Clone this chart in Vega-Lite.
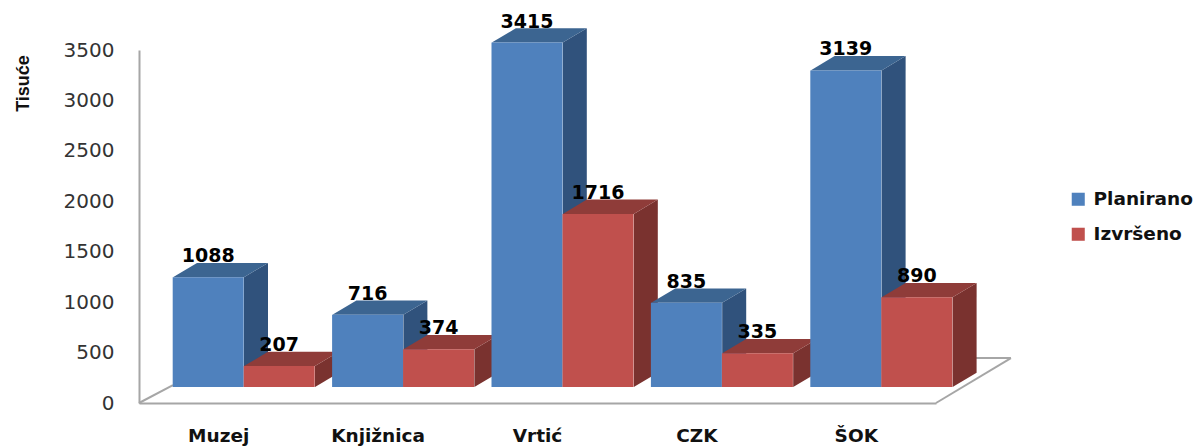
{
"$schema":"https://vega.github.io/schema/vega-lite/v6.json",
"width":797,"height":353,
"autosize":"none",
"padding":{"left":139,"top":50,"right":264,"bottom":45},
"background":"white",
"datasets":{
"bars":[
{"cat":"Muzej","series":"Planirano","value":1088},
{"cat":"Muzej","series":"Izvršeno","value":207},
{"cat":"Knjižnica","series":"Planirano","value":716},
{"cat":"Knjižnica","series":"Izvršeno","value":374},
{"cat":"Vrtić","series":"Planirano","value":3415},
{"cat":"Vrtić","series":"Izvršeno","value":1716},
{"cat":"CZK","series":"Planirano","value":835},
{"cat":"CZK","series":"Izvršeno","value":335},
{"cat":"ŠOK","series":"Planirano","value":3139},
{"cat":"ŠOK","series":"Izvršeno","value":890}
],
"floor":[
{"edge":"left","slot":0,"depth":0},
{"edge":"left","slot":0.213,"depth":178},
{"edge":"right","slot":5,"depth":0},
{"edge":"right","slot":5.47,"depth":446},
{"edge":"back","slot":5.245,"depth":446},
{"edge":"back","slot":5.47,"depth":446}
]
},
"layer":[
{
"data":{"name":"bars"},
"mark":{"type":"bar","opacity":0},
"encoding":{
"x":{"field":"cat","type":"nominal","sort":["Muzej","Knjižnica","Vrtić","CZK","ŠOK"],
"axis":{"title":null,"labelAngle":0,"ticks":false,"labelPadding":23,"labelFont":"DejaVu Sans","labelFontWeight":"bold","labelFontSize":18.5,"labelColor":"#111","domainColor":"#a6a6a6","domainWidth":2}},
"y":{"field":"value","type":"quantitative","stack":null,"scale":{"domain":[0,3500],"nice":false},
"axis":{"values":[0,500,1000,1500,2000,2500,3000,3500],"format":"d","grid":false,"ticks":false,"labelPadding":25,"labelFont":"DejaVu Sans","labelFontSize":20,"labelColor":"#333","domainColor":"#a6a6a6","domainWidth":2,
"title":"Tisuće","titleFont":"Liberation Sans","titleFontWeight":"bold","titleFontSize":18,"titleColor":"#111","titleX":-107,"titleY":33,"titleAlign":"center"}}
}
},
{
"data":{"name":"floor"},
"mark":{"type":"line","color":"#a6a6a6","strokeWidth":2},
"encoding":{
"x":{"field":"slot","type":"quantitative","scale":{"domain":[0,5]},"axis":null},
"y":{"field":"depth","type":"quantitative"},
"detail":{"field":"edge"}
}
},
{
"data":{"name":"bars"},
"transform":[
{"calculate":"indexof(['Muzej','Knjižnica','Vrtić','CZK','ŠOK'],datum.cat)+0.2133+0.4454*(datum.series==='Izvršeno'?1:0)","as":"left"},
{"calculate":"[0,1]","as":"t"},
{"flatten":["t"]},
{"calculate":"datum.left+0.4454+0.1506*datum.t","as":"sx"},
{"calculate":"datum.value+142*datum.t","as":"top"},
{"calculate":"142*datum.t","as":"base"}
],
"mark":{"type":"area","yOffset":-16,"y2Offset":-16,"line":false},
"encoding":{
"x":{"field":"sx","type":"quantitative","scale":{"domain":[0,5]},"axis":null},
"y":{"field":"top","type":"quantitative","stack":null},
"y2":{"field":"base"},
"detail":{"field":"cat"},
"color":{"field":"series","type":"nominal","scale":{"domain":["Planirano","Izvršeno"],"range":["#30527C","#7A322F"]},"legend":null}
}
},
{
"data":{"name":"bars"},
"transform":[
{"calculate":"indexof(['Muzej','Knjižnica','Vrtić','CZK','ŠOK'],datum.cat)+0.2133+0.4454*(datum.series==='Izvršeno'?1:0)","as":"left"},
{"calculate":"[0,1]","as":"t"},
{"flatten":["t"]},
{"calculate":"datum.left+0.1506*datum.t","as":"tx"},
{"calculate":"datum.left+0.4454+0.1506*datum.t","as":"tx2"},
{"calculate":"datum.value+142*datum.t","as":"top"}
],
"mark":{"type":"area","orient":"horizontal","yOffset":-16,"y2Offset":-16},
"encoding":{
"y":{"field":"top","type":"quantitative"},
"x":{"field":"tx","type":"quantitative","scale":{"domain":[0,5]},"axis":null,"stack":null},
"x2":{"field":"tx2"},
"detail":{"field":"cat"},
"color":{"field":"series","type":"nominal","scale":{"domain":["Planirano","Izvršeno"],"range":["#3C6591","#8F3C39"]},"legend":null}
}
},
{
"data":{"name":"bars"},
"mark":{"type":"bar","yOffset":-16,"y2Offset":-16},
"encoding":{
"x":{"field":"cat","type":"nominal","sort":["Muzej","Knjižnica","Vrtić","CZK","ŠOK"],
"scale":{"range":[25,822],"paddingInner":0.1092,"paddingOuter":0.0546},"axis":null},
"xOffset":{"field":"series","type":"nominal","sort":["Planirano","Izvršeno"],"scale":{"domain":["Planirano","Izvršeno"],"paddingInner":0,"paddingOuter":0}},
"y":{"field":"value","type":"quantitative","stack":null},
"y2":{"datum":0},
"color":{"field":"series","type":"nominal","scale":{"domain":["Planirano","Izvršeno"],"range":["#4F81BD","#C0504D"]},
"legend":{"title":null,"orient":"none","legendX":930,"legendY":140,"symbolType":"square","symbolSize":170,"symbolStrokeWidth":0,"labelFont":"DejaVu Sans","labelFontWeight":"bold","labelFontSize":18.5,"labelColor":"#111","rowPadding":16,"labelOffset":6}}
}
},
{
"data":{"name":"bars"},
"mark":{"type":"text","yOffset":-37,"font":"DejaVu Sans","fontWeight":"bold","fontSize":19,"color":"#000","baseline":"middle"},
"encoding":{
"x":{"field":"cat","type":"nominal","sort":["Muzej","Knjižnica","Vrtić","CZK","ŠOK"],"scale":{"range":[25,822],"paddingInner":0.1092,"paddingOuter":0.0546},"axis":null},
"xOffset":{"field":"series","type":"nominal","sort":["Planirano","Izvršeno"],"scale":{"type":"point","domain":["Planirano","Izvršeno"],"padding":0.5}},
"y":{"field":"value","type":"quantitative","stack":null},
"text":{"field":"value","type":"quantitative","format":"d"}
}
}
],
"resolve":{"scale":{"x":"independent","color":"independent","xOffset":"independent"},"axis":{"x":"independent"}},
"config":{"view":{"stroke":null}}
}
